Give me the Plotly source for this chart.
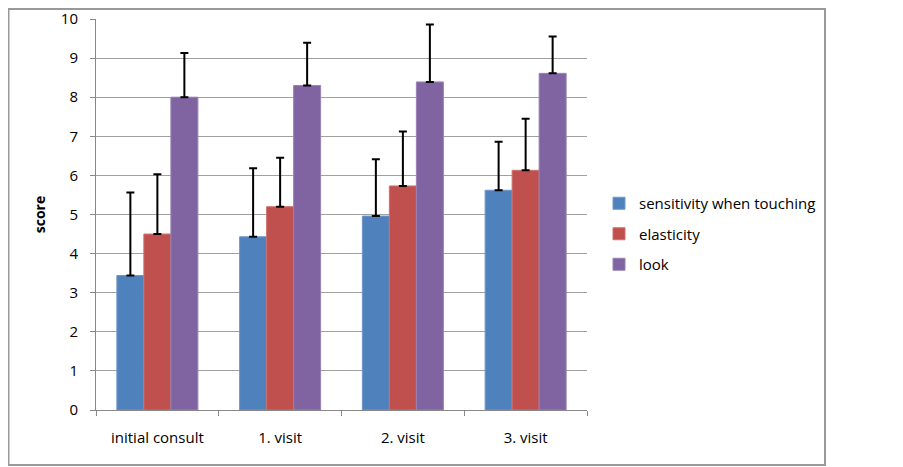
import plotly.graph_objects as go

categories = ["initial consult", "1. visit", "2. visit", "3. visit"]
series_names = ["sensitivity when touching", "elasticity", "look"]
sensitivity = [3.44, 4.43, 4.96, 5.62]
elasticity = [4.50, 5.20, 5.73, 6.13]
look = [8.00, 8.30, 8.39, 8.61]
sensitivity_err = [2.12, 1.75, 1.45, 1.24]
elasticity_err = [1.53, 1.25, 1.39, 1.32]
look_err = [1.13, 1.09, 1.47, 0.94]
y_ticks = [0, 1, 2, 3, 4, 5, 6, 7, 8, 9, 10]

colors = ["#4F81BD", "#C0504D", "#8064A2"]
edge = ["#6F97CB", "#CD716F", "#9782B3"]

FONT = "Open Sans"
OFF = 8  # default page body margin
W, H = 903 - OFF, 467 - OFF
# target plot area in page pixels: x 96..587, y 19..410
ml = 96 - OFF
mt = 19 - OFF
mr = W - (587 - OFF)
mb = H - (410 - OFF)
pw, ph = W - ml - mr, H - mt - mb

def px_x(p):
    return (p - OFF - ml) / pw

def px_y(p):
    return (H - mb - (p - OFF)) / ph

fig = go.Figure()
for i, (name, vals, err) in enumerate(zip(series_names,
                                           [sensitivity, elasticity, look],
                                           [sensitivity_err, elasticity_err, look_err])):
    fig.add_trace(go.Bar(
        x=categories, y=vals, name=name,
        legendgroup=f"g{i}",
        marker=dict(color=colors[i], line=dict(color=edge[i], width=1)),
        error_y=dict(type="data", symmetric=False, array=err,
                     arrayminus=[0] * len(err), color="black",
                     thickness=2, width=4),
    ))

fig.update_layout(
    width=W, height=H,
    margin=dict(l=ml, r=mr, t=mt, b=mb, autoexpand=False),
    paper_bgcolor="white", plot_bgcolor="white",
    barmode="group", bargap=0.34, bargroupgap=0,
    font=dict(family=FONT, size=15, color="black"),
    showlegend=True,
    legend=dict(x=px_x(599), y=px_y(187), xanchor="left", yanchor="top",
                traceorder="grouped", tracegroupgap=8,
                font=dict(family=FONT, size=15, color="black"),
                bgcolor="rgba(0,0,0,0)"),
    xaxis=dict(type="category", showline=True, linecolor="#888888", linewidth=1,
               ticks="outside", tickson="boundaries", ticklen=5,
               tickcolor="#888888", showgrid=False, ticklabelstandoff=14,
               automargin=False,
               tickfont=dict(family=FONT, size=15)),
    yaxis=dict(range=[0, 10], tickvals=y_ticks, showline=True,
               linecolor="#888888", linewidth=1, ticks="outside", ticklen=5,
               tickcolor="#888888", showgrid=True, gridcolor="#A0A0A0",
               gridwidth=1, zeroline=False, ticklabelstandoff=9,
               automargin=False,
               tickfont=dict(family=FONT, size=15),
               title=dict(text="<b>score</b>", font=dict(family=FONT, size=14),
                          standoff=11)),
    shapes=[dict(type="rect", xref="paper", yref="paper",
                 x0=px_x(OFF + 0.5), x1=px_x(825), y0=px_y(465), y1=px_y(OFF + 1),
                 line=dict(color="#999999", width=2), layer="below")],
)

fig.write_html("out.html")
